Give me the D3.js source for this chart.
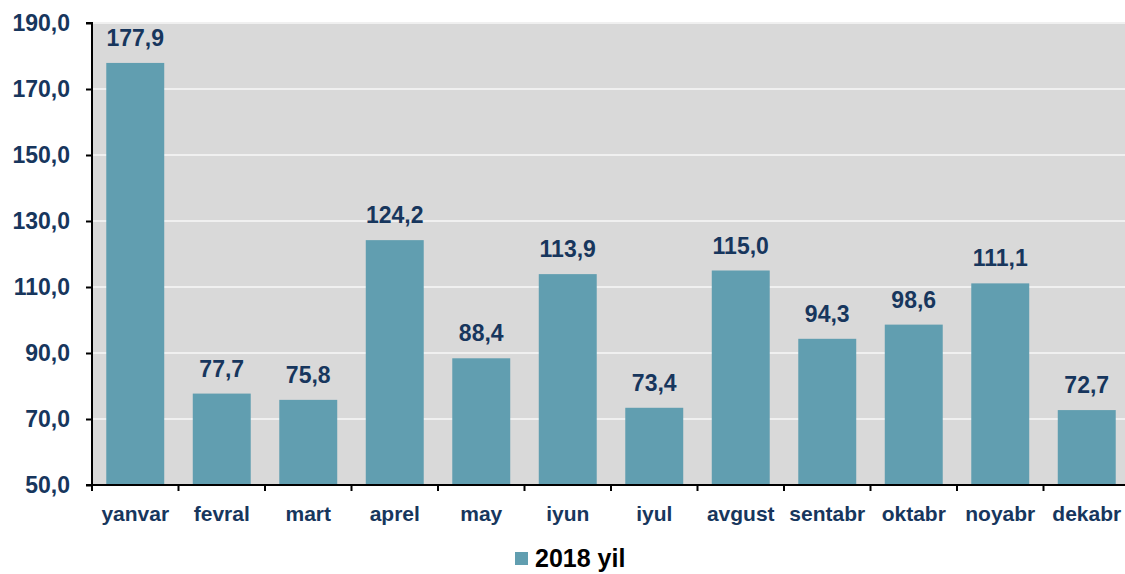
<!doctype html>
<meta charset="utf-8" />
<script src="https://cdn.jsdelivr.net/npm/d3@7"></script>
<style>
    body {
        margin: 0;
        background: white;
    }

    text {
        font-family: "Liberation Sans", Arial, sans-serif;
        font-weight: bold;
    }

    svg {
        display: block
    }
</style>
<svg id="chart"></svg>
<script>
    var months = ['yanvar', 'fevral', 'mart', 'aprel', 'may', 'iyun',
        'iyul', 'avgust', 'sentabr', 'oktabr', 'noyabr', 'dekabr'];
    var values2018 = [177.9, 77.7, 75.8, 124.2, 88.4, 113.9,
        73.4, 115.0, 94.3, 98.6, 111.1, 72.7];
    var yTicks = [50, 70, 90, 110, 130, 150, 170, 190];
    var seriesName = '2018 yil';

    var width = 1125, height = 574;
    var plotLeft = 92, plotTop = 23, plotBottom = 485, plotRight = 1130;
    var textColor = '#17365d';
    var barColor = '#619eb0';
    var fmt = d => d.toFixed(1).replace('.', ',');

    var svg = d3.select('svg#chart')
        .attr('width', width)
        .attr('height', height);

    var x = d3.scaleBand()
        .domain(months)
        .range([plotLeft, plotRight])
        .paddingInner(0.33)
        .paddingOuter(0.165);

    var y = d3.scaleLinear()
        .domain([50, 190])
        .range([plotBottom, plotTop]);

    // plot background
    svg.append('rect')
        .attr('x', plotLeft)
        .attr('y', plotTop)
        .attr('width', plotRight - plotLeft)
        .attr('height', plotBottom - plotTop)
        .style('fill', '#d9d9d9');

    // grid lines
    svg.append('g')
        .selectAll('line')
        .data(yTicks.slice(1))
        .enter()
        .append('line')
        .attr('x1', plotLeft)
        .attr('x2', plotRight)
        .attr('y1', d => y(d))
        .attr('y2', d => y(d))
        .style('stroke', '#f0f0f0')
        .style('stroke-width', 2);

    // bars
    svg.append('g')
        .selectAll('rect')
        .data(values2018)
        .enter()
        .append('rect')
        .attr('x', (d, i) => x(months[i]))
        .attr('y', d => y(d))
        .attr('width', x.bandwidth())
        .attr('height', d => y(50) - y(d))
        .style('fill', barColor);

    // value labels
    svg.append('g')
        .selectAll('text')
        .data(values2018)
        .enter()
        .append('text')
        .attr('x', (d, i) => x(months[i]) + x.bandwidth() / 2)
        .attr('y', d => y(d) - 17)
        .attr('text-anchor', 'middle')
        .style('font-size', '23px')
        .style('fill', textColor)
        .text(fmt);

    // y axis
    var yAxis = svg.append('g')
        .attr('transform', 'translate(' + plotLeft + ',0)')
        .call(d3.axisLeft(y).tickValues(yTicks).tickFormat(fmt).tickSize(6).tickPadding(16));
    yAxis.select('.domain').attr('d', 'M-6,' + plotTop + 'H0V' + plotBottom + 'H-6').style('stroke', '#000').style('stroke-width', 2);
    yAxis.selectAll('.tick line').style('stroke', '#000').style('stroke-width', 2);
    yAxis.selectAll('text')
        .attr('font-family', null)
        .attr('font-size', null)
        .style('font-size', '23px')
        .style('fill', textColor);

    // x axis with ticks at band boundaries
    var edges = d3.range(months.length + 1).map(i => plotLeft + i * (plotRight - plotLeft) / months.length);
    var xAxis = svg.append('g');
    xAxis.append('line')
        .attr('x1', plotLeft)
        .attr('x2', plotRight)
        .attr('y1', plotBottom)
        .attr('y2', plotBottom)
        .style('stroke', '#000')
        .style('stroke-width', 2);
    xAxis.selectAll('line.tk')
        .data(edges)
        .enter()
        .append('line')
        .attr('class', 'tk')
        .attr('x1', d => d)
        .attr('x2', d => d)
        .attr('y1', plotBottom)
        .attr('y2', plotBottom + 6)
        .style('stroke', '#000')
        .style('stroke-width', 2);
    xAxis.selectAll('text')
        .data(months)
        .enter()
        .append('text')
        .attr('x', d => x(d) + x.bandwidth() / 2)
        .attr('y', 521)
        .attr('text-anchor', 'middle')
        .style('font-size', '21px')
        .style('fill', textColor)
        .text(d => d);

    // legend
    var legend = svg.append('g');
    legend.append('rect')
        .attr('x', 515)
        .attr('y', 552)
        .attr('width', 13)
        .attr('height', 13)
        .style('fill', barColor);
    legend.append('text')
        .attr('x', 535)
        .attr('y', 567)
        .style('font-size', '25px')
        .style('fill', '#000')
        .text(seriesName);
</script>
